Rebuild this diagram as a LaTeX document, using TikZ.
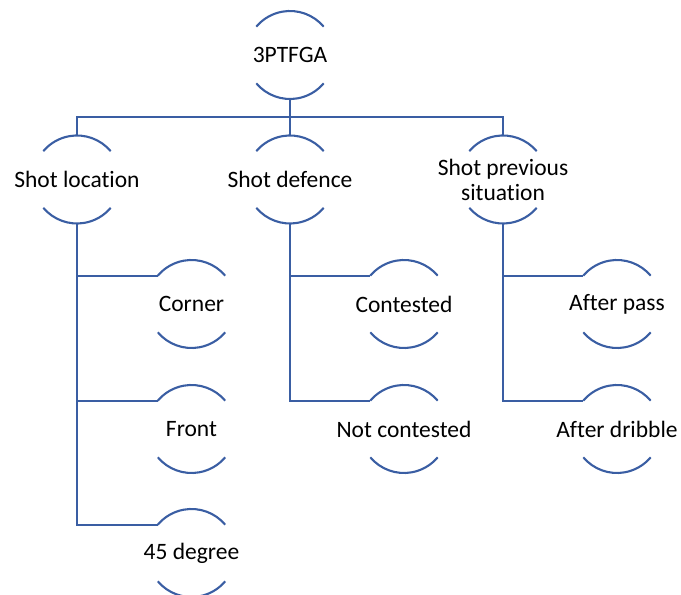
\documentclass[tikz,border=0pt]{standalone}
\usepackage{fontspec}
\setmainfont[Ligatures=NoCommon]{Carlito}
\definecolor{arcblue}{RGB}{58,94,163}
\tikzset{
  hub/.style={circle, minimum size=88pt, inner sep=0pt, outer sep=0pt},
  lbl/.style={font=\fontsize{23.5}{25}\selectfont, align=center, text=black, inner sep=0pt},
  arcline/.style={draw=arcblue, line width=2.1pt},
  link/.style={draw=arcblue, line width=2.1pt}
}
\begin{document}
\begin{tikzpicture}[x=1pt,y=1pt]
\useasboundingbox (0,0) rectangle (681,595);
\node[hub, label={[lbl]center:3PTFGA}] (root) at (290,540) {};
\node[hub, label={[lbl]center:Shot location}] (loc) at (77,415.5) {};
\node[hub, label={[lbl]center:Shot defence}] (def) at (290,415.5) {};
\node[hub, label={[lbl]center:Shot previous\\situation}] (prev) at (503,415.5) {};
\node[hub, label={[lbl]center:Corner}] (corner) at (191.5,291) {};
\node[hub, label={[lbl]center:Front}] (front) at (191.5,166) {};
\node[hub, label={[lbl]center:45 degree}] (deg) at (191.5,42) {};
\node[hub, label={[lbl]center:Contested}] (cont) at (404,291) {};
\node[hub, label={[lbl]center:Not contested}] (notc) at (404,166) {};
\node[hub, label={[lbl]center:After pass}] (pass) at (617,291) {};
\node[hub, label={[lbl]center:After dribble}] (drib) at (617,166) {};
\foreach \n in {root,loc,def,prev,corner,front,deg,cont,notc,pass,drib}{
  \draw[arcline] (\n.40) arc[start angle=40,end angle=140,radius=44pt];
  \draw[arcline] (\n.220) arc[start angle=220,end angle=320,radius=44pt];
}
\coordinate (bus) at ([yshift=-18pt]root.south);
\draw[link] (root.south) -- (bus) -| (loc.north);
\draw[link] (bus) -| (def.north);
\draw[link] (bus) -| (prev.north);
\draw[link] (loc.south) |- (corner.140);
\draw[link] (loc.south) |- (front.140);
\draw[link] (loc.south) |- (deg.140);
\draw[link] (def.south) |- (cont.140);
\draw[link] (def.south) |- (notc.140);
\draw[link] (prev.south) |- (pass.140);
\draw[link] (prev.south) |- (drib.140);
\end{tikzpicture}
\end{document}
